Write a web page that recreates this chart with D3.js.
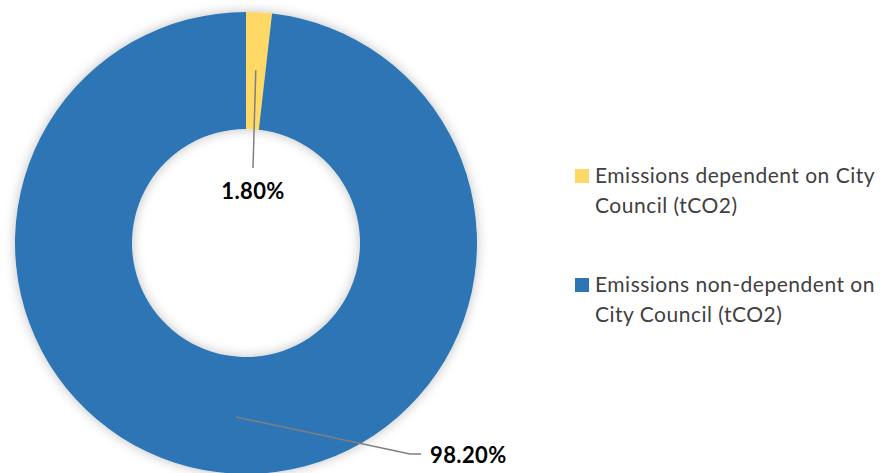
<!DOCTYPE html>
<html><head><meta charset="utf-8">
<script src="https://cdn.jsdelivr.net/npm/d3@7"></script>
<style>body{margin:0;background:#fff}</style>
</head><body>
<svg id="c" width="881" height="473"></svg>
<script>
const categories = ["Emissions dependent on City Council (tCO2)", "Emissions non-dependent on City Council (tCO2)"];
const legendLines = [["Emissions dependent on City", "Council (tCO2)"], ["Emissions non-dependent on", "City Council (tCO2)"]];
const values = [1.80, 98.20];
const labels = ["1.80%", "98.20%"];
const colors = ["#FFD966", "#2E75B6"];

const svg = d3.select("#c");
const defs = svg.append("defs");
const f = defs.append("filter").attr("id","sh").attr("x","-20%").attr("y","-20%").attr("width","140%").attr("height","140%");
f.append("feGaussianBlur").attr("in","SourceAlpha").attr("stdDeviation",6).attr("result","b");
f.append("feFlood").attr("flood-color","#000").attr("flood-opacity",0.25);
f.append("feComposite").attr("in2","b").attr("operator","in").attr("result","s");
const m = f.append("feMerge");
m.append("feMergeNode").attr("in","s");
m.append("feMergeNode").attr("in","SourceGraphic");

const cx = 246, cy = 243, R = 231, r = 114;
const pie = d3.pie().sort(null).value(d => d);
const arc = d3.arc().innerRadius(r).outerRadius(R);
const g = svg.append("g").attr("transform", `translate(${cx},${cy})`);
const arcs = pie(values);
g.append("g").attr("filter","url(#sh)").selectAll("path").data(arcs).join("path")
  .attr("d", arc).attr("fill", (d,i) => colors[i]);

const font = "Lato, 'Open Sans', sans-serif";
const a0 = arcs[0];
const mid0 = (a0.startAngle + a0.endAngle)/2;
g.append("path").attr("d", d3.line()([[Math.sin(mid0)*173, -Math.cos(mid0)*173], [7, -75]]))
  .attr("stroke","#7f7f7f").attr("stroke-width",1.5).attr("fill","none");
g.append("text").attr("x",7).attr("y",-44).attr("text-anchor","middle")
  .attr("font-family",font).attr("font-weight","bold").attr("font-size",22).attr("letter-spacing",0.4)
  .attr("fill","#000").text(labels[0]);

const p1 = [-10, 174];
g.append("path").attr("d", d3.line()([p1, [164, 211], [175, 211]]))
  .attr("stroke","#7f7f7f").attr("stroke-width",1.5).attr("fill","none");
g.append("text").attr("x",184).attr("y",220).attr("text-anchor","start")
  .attr("font-family",font).attr("font-weight","bold").attr("font-size",22).attr("letter-spacing",0.4)
  .attr("fill","#000").text(labels[1]);

const lg = svg.append("g");
const ly = [169, 278];
categories.forEach((c,i) => {
  lg.append("rect").attr("x",575).attr("y",ly[i]).attr("width",14).attr("height",14).attr("fill",colors[i]);
  const t = lg.append("text").attr("font-family",font).attr("font-size",21).attr("letter-spacing",0.5).attr("fill","#404040");
  legendLines[i].forEach((ln,j) => {
    t.append("tspan").attr("x",595).attr("y",ly[i]+14+j*30).text(ln);
  });
});
</script>
</body></html>
